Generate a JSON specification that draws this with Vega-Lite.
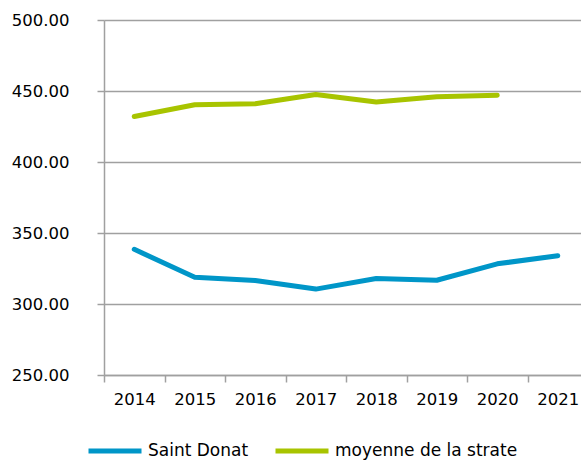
{
  "$schema": "https://vega.github.io/schema/vega-lite/v6.json",
  "width": 477,
  "height": 355,
  "autosize": {"type": "none"},
  "padding": {"left": 104, "top": 20, "right": 0, "bottom": 85},
  "background": "white",
  "config": {"view": {"stroke": null}, "font": "DejaVu Sans"},
  "data": {
    "values": [
      {"annee": "2014", "serie": "Saint Donat", "valeur": 338.5},
      {"annee": "2015", "serie": "Saint Donat", "valeur": 318.8},
      {"annee": "2016", "serie": "Saint Donat", "valeur": 316.5},
      {"annee": "2017", "serie": "Saint Donat", "valeur": 310.5},
      {"annee": "2018", "serie": "Saint Donat", "valeur": 318},
      {"annee": "2019", "serie": "Saint Donat", "valeur": 316.7},
      {"annee": "2020", "serie": "Saint Donat", "valeur": 328.3},
      {"annee": "2021", "serie": "Saint Donat", "valeur": 334},
      {"annee": "2014", "serie": "moyenne de la strate", "valeur": 432},
      {"annee": "2015", "serie": "moyenne de la strate", "valeur": 440.3},
      {"annee": "2016", "serie": "moyenne de la strate", "valeur": 441},
      {"annee": "2017", "serie": "moyenne de la strate", "valeur": 447.5},
      {"annee": "2018", "serie": "moyenne de la strate", "valeur": 442.2},
      {"annee": "2019", "serie": "moyenne de la strate", "valeur": 446},
      {"annee": "2020", "serie": "moyenne de la strate", "valeur": 447}
    ]
  },
  "mark": {"type": "line", "strokeWidth": 5, "strokeCap": "round", "strokeJoin": "round"},
  "encoding": {
    "x": {
      "field": "annee",
      "type": "ordinal",
      "bandPosition": 0.5,
      "scale": {"type": "band", "range": [0, 484], "paddingInner": 0, "paddingOuter": 0},
      "axis": {
        "title": null,
        "labelAngle": 0,
        "tickBand": "extent",
        "grid": false,
        "domainColor": "#a0a0a0",
        "domainWidth": 1.5,
        "tickColor": "#a0a0a0",
        "tickWidth": 1.5,
        "tickSize": 7,
        "labelFontSize": 16.5,
        "labelColor": "#000000",
        "labelPadding": 9
      }
    },
    "y": {
      "field": "valeur",
      "type": "quantitative",
      "scale": {"domain": [250, 500], "nice": false, "zero": false},
      "axis": {
        "title": null,
        "values": [250, 300, 350, 400, 450, 500],
        "format": ".2f",
        "grid": true,
        "gridColor": "#a0a0a0",
        "gridWidth": 1.5,
        "domainColor": "#a0a0a0",
        "domainWidth": 1.5,
        "tickColor": "#a0a0a0",
        "tickWidth": 1.5,
        "tickSize": 7,
        "labelFontSize": 16.5,
        "labelColor": "#000000",
        "labelPadding": 28
      }
    },
    "stroke": {
      "field": "serie",
      "type": "nominal",
      "scale": {"domain": ["Saint Donat", "moyenne de la strate"], "range": ["#0096c8", "#a8c400"]},
      "legend": {
        "title": null,
        "orient": "none",
        "direction": "horizontal",
        "legendX": -18,
        "legendY": 402,
        "padding": 0,
        "symbolType": "stroke",
        "symbolSize": 2809,
        "symbolStrokeWidth": 5,
        "labelFontSize": 17,
        "labelColor": "#000000",
        "labelOffset": 4,
        "columnPadding": 16,
        "labelLimit": 0
      }
    }
  }
}
